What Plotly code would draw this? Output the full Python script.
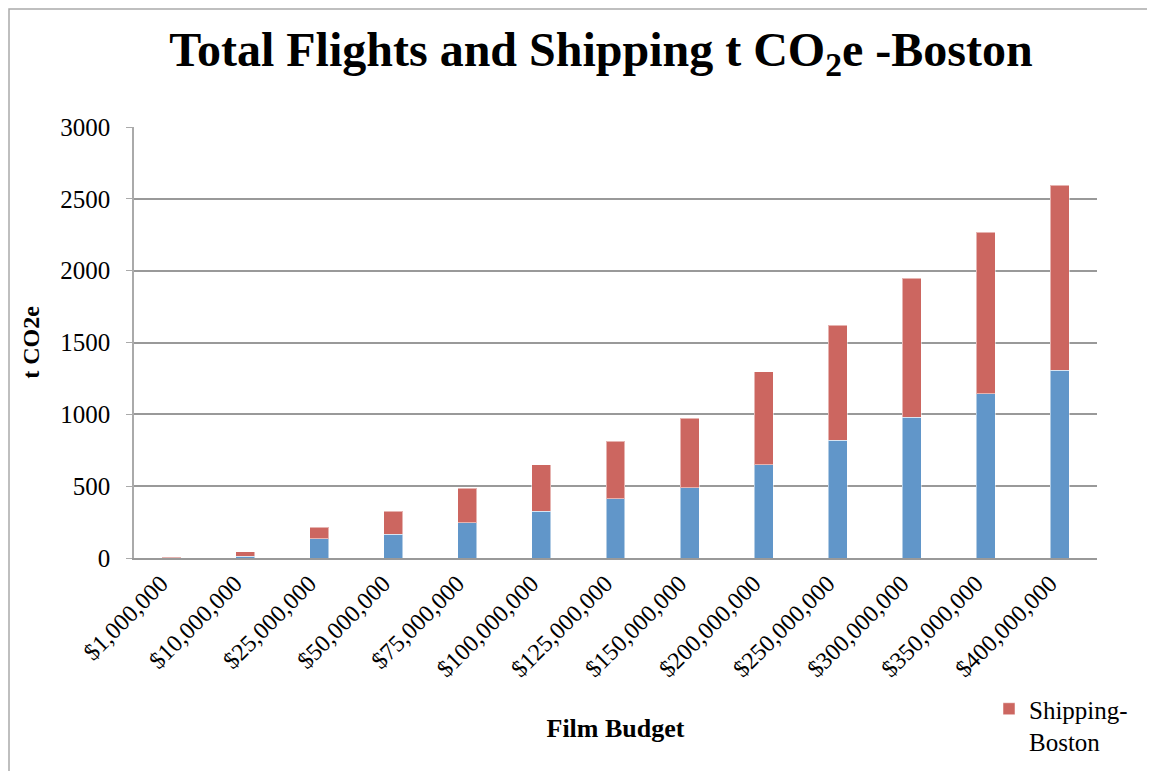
import plotly.graph_objects as go

budgets = ["$1,000,000", "$10,000,000", "$25,000,000", "$50,000,000", "$75,000,000",
           "$100,000,000", "$125,000,000", "$150,000,000", "$200,000,000", "$250,000,000",
           "$300,000,000", "$350,000,000", "$400,000,000"]
flights_boston = [1, 11, 135, 164, 246, 326, 412, 489, 648, 819, 981, 1143, 1307]
shipping_boston = [3, 33, 78, 160, 238, 322, 400, 483, 649, 801, 965, 1126, 1286]

# page body adds an 8px offset; work in reference pixel coordinates
OFF = 8
W, H = 1155, 771
PL, PR, PT, PB = 134, 1097, 127, 558  # plot area in reference pixels
L = PL - OFF
T = PT - OFF
R = W - (PR - OFF)
B = H - (PB - OFF)
pw, ph = PR - PL, PB - PT

def px(x):
    return (x - PL) / pw

def py(y):
    return (PB - y) / ph

serif = "Liberation Serif, Times New Roman, serif"

fig = go.Figure()
fig.add_trace(go.Bar(x=budgets, y=flights_boston, name="Flights-Boston",
                     marker=dict(color="#6196C9", line=dict(color="rgba(255,255,255,0.5)", width=1)),
                     showlegend=False))
fig.add_trace(go.Bar(x=budgets, y=shipping_boston, name="Shipping-<br>Boston",
                     marker=dict(color="#CC6660", line=dict(color="rgba(255,255,255,0.5)", width=1))))

fig.update_layout(
    width=W, height=H,
    margin=dict(l=L, r=R, t=T, b=B, autoexpand=False),
    barmode="stack", bargap=0.744,
    paper_bgcolor="white", plot_bgcolor="white",
    font=dict(family=serif, color="black", size=25),
    title=dict(text="<b>Total Flights and Shipping t CO<sub>2</sub>e -Boston</b>",
               font=dict(family=serif, size=48, color="black"),
               x=(601 - OFF) / W, xanchor="center", y=1 - (49 - OFF) / H, yanchor="middle"),
    showlegend=True,
    legend=dict(x=px(989), y=py(686), xanchor="left", yanchor="top", valign="top",
                font=dict(family=serif, size=25), bgcolor="rgba(0,0,0,0)",
                itemwidth=30, tracegroupgap=0),
    xaxis=dict(tickangle=-45, showgrid=False, showline=True, linecolor="#999999", linewidth=2,
               ticks="", tickfont=dict(family=serif, size=24), automargin=False,
               ticklabelshift=-10,
               title=dict(text="<b>Film Budget</b>", font=dict(family=serif, size=26), standoff=38)),
    yaxis=dict(range=[0, 3000], dtick=500, showgrid=True, gridcolor="#999999", gridwidth=1.5,
               showline=True, linecolor="#aaaaaa", linewidth=1.5, ticks="outside", ticklen=6,
               tickcolor="#aaaaaa", zeroline=False, tickfont=dict(family=serif, size=25),
               automargin=False, ticklabelstandoff=11,
               title=dict(text="<b>t CO2e</b>", font=dict(family=serif, size=24), standoff=14)),
    shapes=[dict(type="rect", xref="paper", yref="paper",
                 x0=px(9), x1=px(1150), y0=py(800), y1=py(9),
                 line=dict(color="#aaaaaa", width=1.5), fillcolor="rgba(0,0,0,0)", layer="below")],
)

fig.write_html("out.html")
